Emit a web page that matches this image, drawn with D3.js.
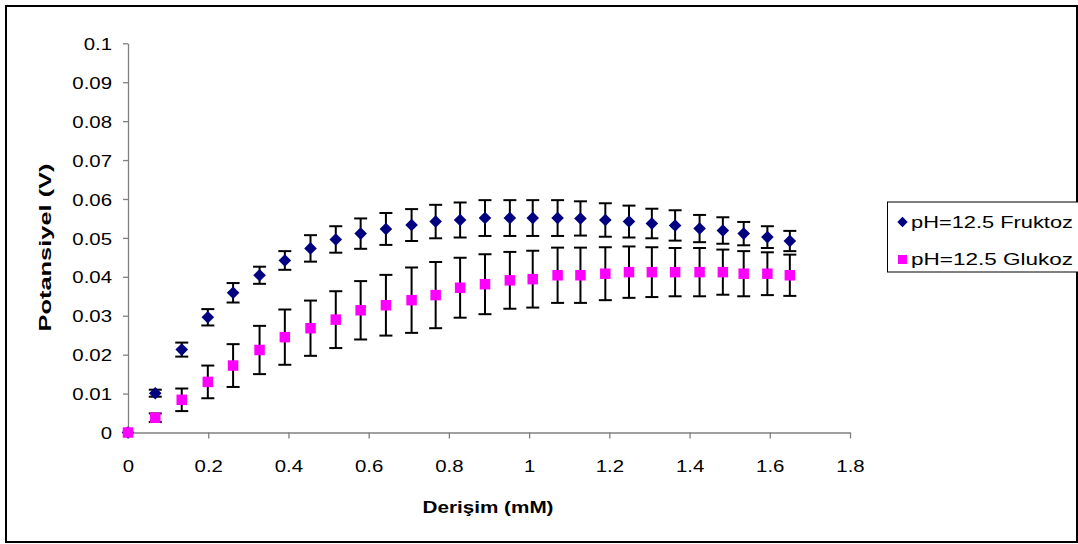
<!DOCTYPE html>
<html>
<head>
<meta charset="utf-8">
<script src="https://cdn.jsdelivr.net/npm/d3@7"></script>
<style>
  html, body { margin: 0; padding: 0; background: #fff; }
  svg { display: block; }
  text { font-family: "Liberation Sans", Arial, sans-serif; fill: #000; }
</style>
</head>
<body>
<svg id="chart" width="1078" height="544"></svg>
<script>
// Concentration (mM) after each addition
const concentration = [0, 0.068, 0.134, 0.199, 0.262, 0.328, 0.391, 0.455, 0.518, 0.580,
  0.643, 0.707, 0.767, 0.828, 0.890, 0.952, 1.009, 1.071, 1.128, 1.190,
  1.249, 1.306, 1.364, 1.425, 1.483, 1.535, 1.594, 1.650];

// Potential (V), fructose at pH 12.5
const fruktoz = [0, 0.0101, 0.0213, 0.0296, 0.0359, 0.0404, 0.0442, 0.0473, 0.0496, 0.0511,
  0.0523, 0.0533, 0.0542, 0.0546, 0.0551, 0.0551, 0.0551, 0.0551, 0.0550, 0.0546,
  0.0542, 0.0537, 0.0532, 0.0524, 0.0519, 0.0511, 0.0502, 0.0492];
const fruktozErr = [0, 0.0009, 0.0018, 0.0021, 0.0025, 0.0022, 0.0024, 0.0034, 0.0034, 0.0039,
  0.0041, 0.0041, 0.0043, 0.0045, 0.0046, 0.0046, 0.0046, 0.0046, 0.0044, 0.0043,
  0.0041, 0.0038, 0.0039, 0.0035, 0.0034, 0.0030, 0.0028, 0.0026];

// Potential (V), glucose at pH 12.5
const glukoz = [0, 0.0038, 0.0084, 0.0130, 0.0172, 0.0212, 0.0245, 0.0268, 0.0290, 0.0314,
  0.0327, 0.0340, 0.0353, 0.0372, 0.0381, 0.0391, 0.0394, 0.0404, 0.0404, 0.0408,
  0.0412, 0.0412, 0.0412, 0.0412, 0.0412, 0.0408, 0.0408, 0.0404];
const glukozErr = [0, 0.0011, 0.0029, 0.0042, 0.0055, 0.0062, 0.0071, 0.0071, 0.0073, 0.0075,
  0.0078, 0.0084, 0.0085, 0.0077, 0.0077, 0.0073, 0.0073, 0.0071, 0.0071, 0.0068,
  0.0066, 0.0064, 0.0062, 0.0062, 0.0058, 0.0058, 0.0055, 0.0053];

const seriesNames = ["pH=12.5 Fruktoz", "pH=12.5 Glukoz"];
const xTicks = [0, 0.2, 0.4, 0.6, 0.8, 1, 1.2, 1.4, 1.6, 1.8];
const yTicks = [0, 0.01, 0.02, 0.03, 0.04, 0.05, 0.06, 0.07, 0.08, 0.09, 0.1];
const xTitle = "Derişim (mM)";
const yTitle = "Potansiyel (V)";

const svg = d3.select("#chart");

// chart frame
svg.append("rect")
  .attr("x", 6).attr("y", 6).attr("width", 1071).attr("height", 536)
  .attr("fill", "#fff").attr("stroke", "#000").attr("stroke-width", 2);

const x = d3.scaleLinear().domain([0, 1.8]).range([128, 850]);
const y = d3.scaleLinear().domain([0, 0.1]).range([432.5, 43.3]);

const axisColor = "#808080";
const stretch = 1.2;

// x axis
const gx = svg.append("g").attr("transform", `translate(0,${y(0)})`)
  .call(d3.axisBottom(x).tickValues(xTicks).tickSize(6).tickSizeOuter(0)
    .tickFormat(d => String(d)));
gx.select(".domain").attr("stroke", axisColor).attr("stroke-width", 1.3);
gx.selectAll(".tick line").attr("stroke", axisColor).attr("stroke-width", 1.3);
gx.selectAll(".tick text")
  .attr("y", 0).attr("dy", 0)
  .attr("transform", `translate(0,39.5) scale(${stretch},1)`)
  .attr("font-size", 17).attr("font-family", "Liberation Sans, Arial, sans-serif")
  .attr("fill", "#000");

// y axis
const gy = svg.append("g").attr("transform", `translate(${x(0)},0)`)
  .call(d3.axisLeft(y).tickValues(yTicks).tickSize(5).tickSizeOuter(0)
    .tickFormat(d => String(d)));
gy.select(".domain").attr("stroke", axisColor).attr("stroke-width", 1.3);
gy.selectAll(".tick line").attr("stroke", axisColor).attr("stroke-width", 1.3);
gy.selectAll(".tick text")
  .attr("x", 0).attr("dy", "0.36em")
  .attr("transform", `translate(-16,0) scale(${stretch},1)`)
  .attr("font-size", 17).attr("font-family", "Liberation Sans, Arial, sans-serif")
  .attr("fill", "#000");

// axis titles
svg.append("text")
  .attr("x", 488).attr("y", 513)
  .attr("text-anchor", "middle")
  .attr("font-size", 17).attr("font-weight", "bold")
  .attr("textLength", 131).attr("lengthAdjust", "spacingAndGlyphs")
  .text(xTitle);

svg.append("text")
  .attr("transform", "translate(51,247.5) rotate(-90)")
  .attr("text-anchor", "middle")
  .attr("font-size", 17).attr("font-weight", "bold")
  .attr("textLength", 168).attr("lengthAdjust", "spacingAndGlyphs")
  .text(yTitle);

// error bars + markers
const capHalf = 6.5;
function drawErrors(vals, errs) {
  const g = svg.append("g").attr("stroke", "#000").attr("stroke-width", 2);
  concentration.forEach((c, i) => {
    if (!errs[i]) return;
    const cx = x(c), top = y(vals[i] + errs[i]), bot = y(vals[i] - errs[i]);
    g.append("line").attr("x1", cx).attr("x2", cx).attr("y1", top).attr("y2", bot);
    g.append("line").attr("x1", cx - capHalf).attr("x2", cx + capHalf).attr("y1", top).attr("y2", top);
    g.append("line").attr("x1", cx - capHalf).attr("x2", cx + capHalf).attr("y1", bot).attr("y2", bot);
  });
}
drawErrors(fruktoz, fruktozErr);
drawErrors(glukoz, glukozErr);

const diamond = r => `M0,${-r}L${r},0L0,${r}L${-r},0Z`;

svg.append("g").selectAll("path")
  .data(concentration.map((c, i) => [c, fruktoz[i]]))
  .join("path")
  .attr("transform", d => `translate(${x(d[0])},${y(d[1])})`)
  .attr("d", diamond(6.3))
  .attr("fill", "#000080");

const sq = 10.5;
svg.append("g").selectAll("rect")
  .data(concentration.map((c, i) => [c, glukoz[i]]))
  .join("rect")
  .attr("x", d => x(d[0]) - sq / 2)
  .attr("y", d => y(d[1]) - sq / 2)
  .attr("width", sq).attr("height", sq)
  .attr("fill", "#FF00FF");

// legend
const lg = svg.append("g");
lg.append("rect")
  .attr("x", 887.5).attr("y", 202).attr("width", 200).attr("height", 70)
  .attr("fill", "#fff").attr("stroke", "#000").attr("stroke-width", 1);
lg.append("path")
  .attr("transform", "translate(902.5,222)")
  .attr("d", diamond(5.2)).attr("fill", "#000080");
lg.append("rect")
  .attr("x", 898).attr("y", 255).attr("width", 9).attr("height", 9)
  .attr("fill", "#FF00FF");
seriesNames.forEach((name, i) => {
  lg.append("text")
    .attr("x", 911).attr("y", 228 + i * 37)
    .attr("font-size", 17)
    .attr("textLength", 162).attr("lengthAdjust", "spacingAndGlyphs")
    .text(name);
});
</script>
</body>
</html>
